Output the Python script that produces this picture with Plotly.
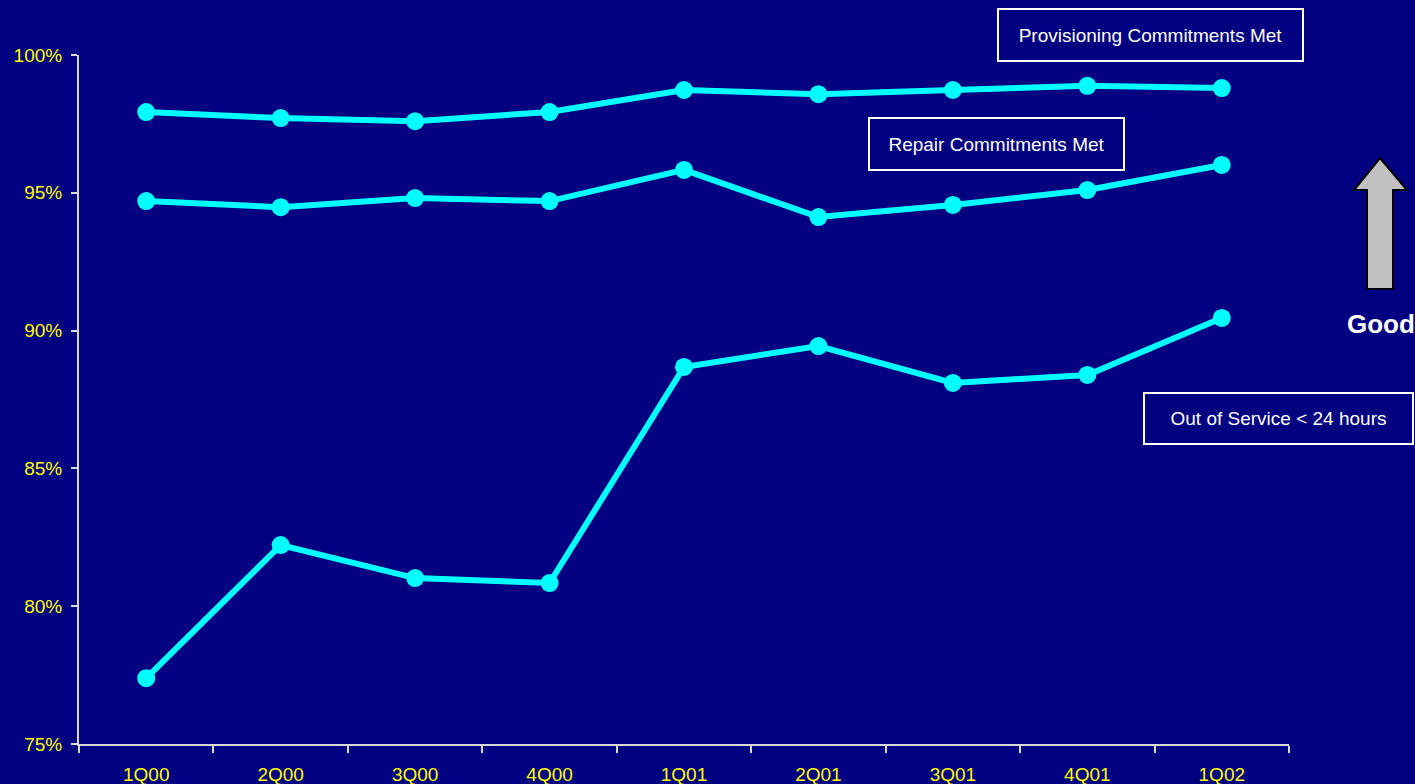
import plotly.graph_objects as go

# Quarterly service performance (% of commitments met)
quarters = ["1Q00", "2Q00", "3Q00", "4Q00", "1Q01", "2Q01", "3Q01", "4Q01", "1Q02"]
provisioning = [97.93, 97.71, 97.60, 97.93, 98.73, 98.58, 98.73, 98.88, 98.80]
repair = [94.70, 94.48, 94.81, 94.70, 95.83, 94.12, 94.56, 95.10, 96.01]
out_of_service = [77.39, 82.22, 81.02, 80.84, 88.68, 89.44, 88.10, 88.39, 90.46]

series_labels = ["Provisioning Commitments Met", "Repair Commitments Met", "Out of Service < 24 hours"]

NAVY = "#000080"
CYAN = "#00FFFF"
YELLOW = "#FFFF00"
AXIS = "#D8D8D8"
FONT = "Liberation Sans, Arial, sans-serif"

W, H = 1415, 784
L, R, T, B = 79, 126, 55, 40
PW, PH = W - L - R, H - T - B


def px(x):
    return (x - L) / PW


def py(y):
    return (H - B - y) / PH


fig = go.Figure()
for name, vals in zip(series_labels, [provisioning, repair, out_of_service]):
    fig.add_trace(go.Scatter(
        x=quarters, y=vals, name=name, mode="lines+markers",
        line=dict(color=CYAN, width=6),
        marker=dict(color=CYAN, size=18),
        cliponaxis=False, showlegend=False,
    ))

# Series label boxes
boxes = [
    (series_labels[0], 1150.5, 35, 303, 50),
    (series_labels[1], 996.5, 144, 253, 50),
    (series_labels[2], 1278.5, 418.5, 267, 49),
]
annotations = []
for text, cx, cy, bw, bh in boxes:
    annotations.append(dict(
        text=text, xref="paper", yref="paper", x=px(cx), y=py(cy),
        xanchor="center", yanchor="middle", showarrow=False,
        width=bw, height=bh, borderwidth=2, borderpad=0,
        bordercolor="white", bgcolor=NAVY,
        font=dict(family=FONT, size=19, color="white"),
    ))

annotations.append(dict(
    text="<b>Good</b>", xref="paper", yref="paper", x=px(1345), y=py(324),
    xanchor="left", yanchor="middle", showarrow=False,
    font=dict(family=FONT, size=26, color="white"),
))

# Up arrow beside the plot
arrow_pts = [(1380, 158), (1407, 190), (1393, 190), (1393, 289),
             (1367, 289), (1367, 190), (1354, 190)]
path = "M " + " L ".join(f"{px(x):.5f},{py(y):.5f}" for x, y in arrow_pts) + " Z"

fig.update_layout(
    width=W, height=H,
    margin=dict(l=L, r=R, t=T, b=B),
    paper_bgcolor=NAVY, plot_bgcolor=NAVY,
    template="none",
    annotations=annotations,
    shapes=[dict(type="path", path=path, xref="paper", yref="paper",
                 fillcolor="#C0C0C0", line=dict(color="black", width=2))],
    xaxis=dict(
        type="category", range=[-0.5, 8.5], showgrid=False, zeroline=False,
        showline=True, linecolor=AXIS, linewidth=2,
        ticks="outside", tickson="boundaries", ticklen=7, tickcolor=AXIS, tickwidth=2,
        tickfont=dict(family=FONT, size=19, color=YELLOW),
        ticklabelstandoff=12, automargin=False,
    ),
    yaxis=dict(
        range=[75, 100], dtick=5, ticksuffix="%", showgrid=False, zeroline=False,
        showline=True, linecolor=AXIS, linewidth=2,
        ticks="outside", ticklen=6, tickcolor=AXIS, tickwidth=2,
        tickfont=dict(family=FONT, size=19, color=YELLOW),
        ticklabelstandoff=5, automargin=False,
    ),
)

fig.write_html("out.html")
